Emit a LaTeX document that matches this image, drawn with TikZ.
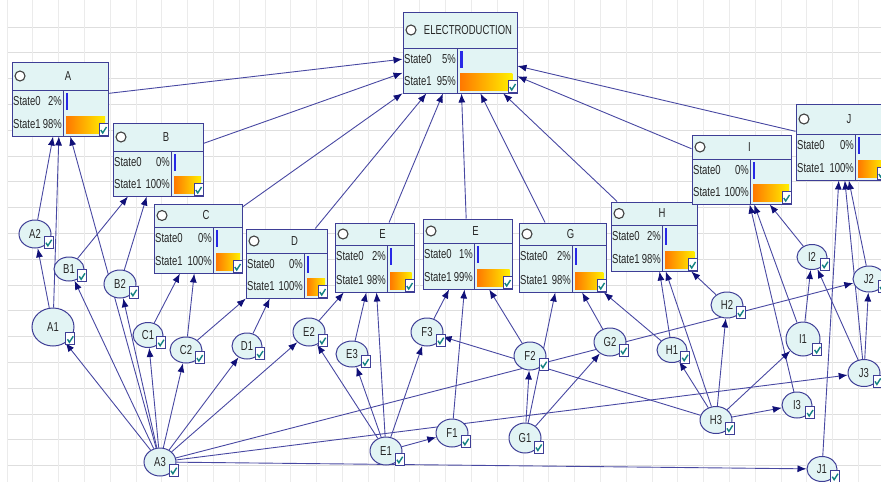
\documentclass[tikz,border=0pt]{standalone}
\usepackage{fontspec}
\newfontfamily\netfont[FakeStretch=0.73]{Liberation Sans}
\usetikzlibrary{arrows.meta,shapes.geometric}

\definecolor{nodefill}{RGB}{226,244,244}
\definecolor{nodeline}{RGB}{62,62,150}
\definecolor{linkcol}{RGB}{72,72,162}
\definecolor{tipcol}{RGB}{16,16,120}
\definecolor{tickcol}{RGB}{20,130,130}
\definecolor{barblue}{RGB}{40,40,230}
\definecolor{barorange}{RGB}{255,120,0}
\definecolor{baryellow}{RGB}{255,240,0}
\definecolor{gridcol}{RGB}{222,222,222}

\pgfdeclarelayer{grid}
\pgfdeclarelayer{edges}
\pgfsetlayers{grid,edges,main}

\tikzset{
  gridline/.style={draw=gridcol, line width=0.7pt},
  netbox/.style={draw=nodeline, fill=nodefill, line width=1pt, inner sep=0pt},
  boxrule/.style={draw=nodeline, line width=1pt},
  hdrdot/.style={circle, draw=black!75, fill=white, line width=1.1pt, minimum size=10pt, inner sep=0pt},
  hdrtext/.style={font=\netfont\fontsize{13}{14}\selectfont, text=black!85, inner sep=0pt},
  statetext/.style={font=\netfont\fontsize{13}{14}\selectfont, text=black!85, inner sep=1pt},
  var/.style={ellipse, draw=nodeline, fill=nodefill, line width=1pt, inner sep=0pt,
    font=\netfont\fontsize{13}{14}\selectfont, text=black!85},
  tick/.style={draw=nodeline, fill=white, line width=0.8pt, minimum width=9pt,
    minimum height=12pt, inner sep=0pt,
    path picture={\draw[tickcol, line width=1.4pt]
      ([xshift=1.8pt,yshift=-0.5pt]path picture bounding box.west)
      -- ([xshift=-0.8pt,yshift=2.5pt]path picture bounding box.south)
      -- ([xshift=-1.5pt,yshift=-3.5pt]path picture bounding box.north east);}},
  link/.style={draw=linkcol, line width=0.9pt, -{Latex[length=9pt,width=7pt,color=tipcol]}},
}

% box: name, label, left, top, right, bottom, header bottom, divider, State0 percent
\newcommand{\netbox}[9]{%
  \pgfmathsetmacro{\bw}{#5-#3}%
  \pgfmathsetmacro{\bh}{#6-#4}%
  \pgfmathsetmacro{\wzero}{max(1.6,#9/100*(#5-#8-6))}%
  \pgfmathsetmacro{\wone}{(100-#9)/100*(#5-#8-5)}%
  \pgfmathtruncatemacro{\pone}{100-#9}%
  \node[netbox, minimum width=\bw pt, minimum height=\bh pt] (#1) at ({(#3+#5)/2},{(#4+#6)/2}) {};
  \draw[boxrule] (#3,#7) -- (#5,#7) (#8,#7) -- (#8,#6);
  \node[hdrdot] (#1-dot) at ({#3+8},{(#4+#7)/2}) {};
  \node[hdrtext] (#1-title) at ({(#3+#5)/2+8},{(#4+#7)/2}) {#2};
  \node[statetext, anchor=west] (#1-s0) at (#3,{#7+11}) {State0};
  \node[statetext, anchor=east] (#1-v0) at (#8,{#7+11}) {#9\%};
  \node[statetext, anchor=west] (#1-s1) at (#3,{#6-12}) {State1};
  \node[statetext, anchor=east] (#1-v1) at (#8,{#6-12}) {\pone\%};
  \fill[barblue] ({#8+3},{#7+3}) rectangle ++(\wzero,17);
  \shade[left color=barorange, right color=baryellow] ({#8+3},{#6-20}) rectangle ++(\wone,17);
  \node[tick] (#1-ok) at ({#5-4.5},{#6-6.5}) {};
}

% variable: name, x, y, width, height
\newcommand{\varnode}[5]{%
  \node[var, minimum width=#4pt, minimum height=#5pt] (#1) at (#2,#3) {#1};
  \node[tick] (#1-ok) at ([xshift=2pt,yshift=2pt]#1.south east) {};
}

\begin{document}
\begin{tikzpicture}[x=1pt,y=-1pt]
  \useasboundingbox (0,0) rectangle (881,482);
  \begin{pgfonlayer}{grid}
    \foreach \gy in {0,...,17}
      \draw[gridline] (7,{27+25.8*\gy}) -- (881,{27+25.8*\gy});
    \foreach \gx in {0,...,34}
      \draw[gridline, draw=gridcol!60] ({7+25.8*\gx},0) -- ({7+25.8*\gx},482);
  \end{pgfonlayer}

  % result and parent boxes
  \netbox{elec}{ELECTRODUCTION}{403}{12}{517}{93}{48}{457}{5}
  \netbox{A}{A}{12}{62}{108}{136}{90}{63}{2}
  \netbox{B}{B}{113}{123}{203}{196}{151}{171}{0}
  \netbox{C}{C}{154}{204}{242}{273}{227}{213}{0}
  \netbox{D}{D}{246}{229}{327}{298}{253}{304}{0}
  \netbox{E}{E}{335}{223}{414}{292}{245}{387}{2}
  \netbox{F}{E}{423}{219}{512}{289}{243}{474}{1}
  \netbox{G}{G}{519}{223}{606}{292}{245}{572}{2}
  \netbox{H}{H}{611}{202}{697}{271}{225}{662}{2}
  \netbox{I}{I}{692}{135}{791}{204}{159}{750}{0}
  \netbox{J}{J}{796}{104}{886}{180}{134}{855}{0}

  % leaf variables
  \varnode{A2}{35}{234}{32}{28}
  \varnode{B1}{69}{269}{30}{24}
  \varnode{B2}{120}{284}{32}{28}
  \varnode{A1}{53}{327}{42}{38}
  \varnode{C1}{148}{335}{30}{25}
  \varnode{C2}{186}{350}{32}{26}
  \varnode{D1}{247}{346}{30}{26}
  \varnode{E2}{309}{332}{32}{28}
  \varnode{E3}{352}{354}{32}{26}
  \varnode{F3}{427}{332}{32}{28}
  \varnode{F2}{530}{356}{32}{28}
  \varnode{G2}{610}{342}{32}{28}
  \varnode{H1}{672}{350}{30}{25}
  \varnode{H2}{727}{305}{32}{26}
  \varnode{I1}{803}{339}{34}{34}
  \varnode{I2}{812}{257}{30}{25}
  \varnode{J2}{869}{279}{32}{26}
  \varnode{J3}{864}{373}{32}{27}
  \varnode{I3}{797}{405}{30}{26}
  \varnode{H3}{716}{420}{32}{27}
  \varnode{G1}{525}{438}{32}{30}
  \varnode{F1}{452}{433}{32}{28}
  \varnode{E1}{386}{451}{32}{28}
  \varnode{A3}{160}{462}{32}{28}
  \varnode{J1}{822}{469}{30}{25}

  \begin{pgfonlayer}{edges}
    \path (A) edge[link] (elec);
    \path (B) edge[link] (elec);
    \path (C) edge[link] (elec);
    \path (D) edge[link] (elec);
    \path (E) edge[link] (elec);
    \path (F) edge[link] (elec);
    \path (G) edge[link] (elec);
    \path (H) edge[link] (elec);
    \path (I) edge[link] (elec);
    \path (J) edge[link] (elec);

    \path (A2) edge[link] (A);
    \path (A1) edge[link] (A);
    \path (A3) edge[link] (A);
    \path (A1) edge[link] (A2);
    \path (B1) edge[link] (B);
    \path (B2) edge[link] (B);
    \path (C1) edge[link] (C);
    \path (C2) edge[link] (C);
    \path (C2) edge[link] (D);
    \path (D1) edge[link] (D);
    \path (E2) edge[link] (E);
    \path (E3) edge[link] (E);
    \path (E1) edge[link] (E);
    \path (F3) edge[link] (F);
    \path (F1) edge[link] (F);
    \path (F2) edge[link] (F);
    \path (G1) edge[link] (G);
    \path (G2) edge[link] (G);
    \path (H1) edge[link] (G);
    \path (H1) edge[link] (H);
    \path (H3) edge[link] (H);
    \path (H2) edge[link] (H);
    \path (I1) edge[link] (I);
    \path (I3) edge[link] (I);
    \path (I2) edge[link] (I);
    \path (J1) edge[link] (J);
    \path (J3) edge[link] (J);
    \path (J2) edge[link] (J);

    \path (A3) edge[link] (A1);
    \path (A3) edge[link] (B1);
    \path (A3) edge[link] (B2);
    \path (A3) edge[link] (C1);
    \path (A3) edge[link] (C2);
    \path (A3) edge[link] (D1);
    \path (A3) edge[link] (E2);
    \path (A3) edge[link] (J2);
    \path (A3) edge[link] (J3);
    \path (A3) edge[link] (J1);
    \path (E1) edge[link] (E2);
    \path (E1) edge[link] (E3);
    \path (E1) edge[link] (F3);
    \path (E1) edge[link] (F1);
    \path (H3) edge[link] (F3);
    \path (G1) edge[link] (F2);
    \path (G1) edge[link] (G2);
    \path (H3) edge[link] (H1);
    \path (H3) edge[link] (H2);
    \path (H3) edge[link] (I1);
    \path (H3) edge[link] (I3);
    \path (I1) edge[link] (I2);
    \path (J3) edge[link] (I2);
    \path (J3) edge[link] (J2);
  \end{pgfonlayer}
\end{tikzpicture}
\end{document}
